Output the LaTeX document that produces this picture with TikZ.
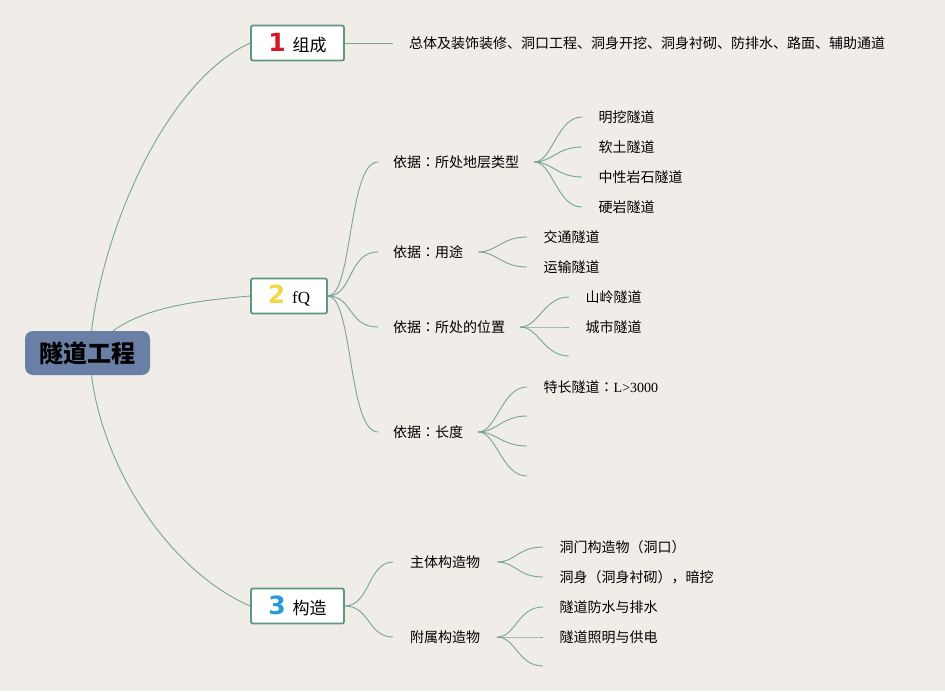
\documentclass[tikz,border=0pt]{standalone}
\usepackage{fontspec}
\setmainfont{Noto Sans CJK SC}
\newfontfamily\tcfont{Noto Sans CJK TC}
\newfontfamily\serifl{Liberation Serif}
\newfontfamily\numf{DejaVu Sans}[BoldFont={DejaVu Sans Bold}]
\definecolor{bg}{RGB}{240,236,232}
\definecolor{rootc}{RGB}{106,127,166}
\definecolor{boxc}{RGB}{94,150,132}
\definecolor{connc}{RGB}{118,166,148}
\definecolor{nred}{RGB}{214,24,44}
\definecolor{nyel}{RGB}{245,214,72}
\definecolor{nblue}{RGB}{38,152,222}
\newcommand{\bignum}[2]{{\numf\bfseries\fontsize{25}{25}\selectfont\color{#1}#2}}
\newcommand{\ccolon}{{\tcfont ：}}
\begin{document}
\begin{tikzpicture}[x=1pt,y=-1pt,
  rootbox/.style={fill=rootc, rounded corners=8pt, minimum width=125pt, minimum height=44pt, inner sep=0pt, font=\fontsize{24}{26}\selectfont\bfseries},
  catbox/.style={draw=boxc, line width=1.8pt, fill=white, rounded corners=2pt, minimum height=35pt, inner sep=0pt, font=\fontsize{17}{20}\selectfont},
  subb/.style={anchor=west, inner xsep=15pt, inner ysep=2pt, font=\fontsize{14}{16}\selectfont},
  leaf/.style={anchor=west, inner xsep=16.5pt, inner ysep=2pt, font=\fontsize{14}{16}\selectfont},
  conn/.style={draw=connc, line width=0.9pt}]
\fill[bg] (0,0) rectangle (945,691);
\useasboundingbox (0,0) rectangle (945,691);

% root and categories
\node[rootbox] (root) at (87.5,353) {隧道工程};
\node[catbox, minimum width=93pt] (c1) at (297.5,43) {\bignum{nred}{1}\hspace{7pt}组成};
\node[catbox, minimum width=76pt] (c2) at (289,296) {\bignum{nyel}{2}\hspace{7pt}{\serifl fQ}};
\node[catbox, minimum width=93pt] (c3) at (297.5,606) {\bignum{nblue}{3}\hspace{7pt}构造};

\draw[conn] ([xshift=4pt]root.north) .. controls +(14,-111) and +(-81,37) .. (c1.west);
\draw[conn] ([xshift=-37pt]root.north east) .. controls +(30,-22) and +(-60,5) .. (c2.west);
\draw[conn] ([xshift=4pt]root.south) .. controls +(12,95) and +(-80,-35) .. (c3.west);

% category 1
\node[leaf, inner xsep=16pt] (t1) at (393,43) {总体及装饰装修、洞口工程、洞身开挖、洞身衬砌、防排水、路面、辅助通道};
\draw[conn] (c1.east) -- (t1.west);

% category 2
\node[subb] (s1) at (378,162) {依据\ccolon 所处地层类型};
\node[subb] (s2) at (378,252) {依据\ccolon 用途};
\node[subb] (s3) at (378,327) {依据\ccolon 所处的位置};
\node[subb] (s4) at (378,432) {依据\ccolon 长度};
\foreach \s in {s1,s2,s3,s4}
  \draw[conn] (c2.east) .. controls +(25,0) and +(-30,0) .. (\s.west);

\node[leaf] (l11) at (582,117) {明挖隧道};
\node[leaf] (l12) at (582,147) {软土隧道};
\node[leaf] (l13) at (582,177) {中性岩石隧道};
\node[leaf] (l14) at (582,207) {硬岩隧道};
\foreach \l in {l11,l12,l13,l14}
  \draw[conn] (s1.east) .. controls +(18,0) and +(-25,0) .. (\l.west);

\node[leaf] (l21) at (527,237) {交通隧道};
\node[leaf] (l22) at (527,267) {运输隧道};
\foreach \l in {l21,l22}
  \draw[conn] (s2.east) .. controls +(18,0) and +(-25,0) .. (\l.west);

\node[leaf] (l31) at (569,297) {山岭隧道};
\node[leaf] (l32) at (569,327) {城市隧道};
\coordinate (e33) at (569,356);
\foreach \l in {l31.west,l32.west,e33}
  \draw[conn] (s3.east) .. controls +(18,0) and +(-25,0) .. (\l);

\node[leaf] (l41) at (527,387) {特长隧道\ccolon{\serifl L>3000}};
\coordinate (e42) at (527,416);
\coordinate (e43) at (527,446);
\coordinate (e44) at (527,476);
\foreach \l in {l41.west,e42,e43,e44}
  \draw[conn] (s4.east) .. controls +(18,0) and +(-25,0) .. (\l);

% category 3
\node[subb, inner xsep=17pt] (m1) at (393,562) {主体构造物};
\node[subb, inner xsep=17pt] (m2) at (393,637) {附属构造物};
\foreach \s in {m1,m2}
  \draw[conn] (c3.east) .. controls +(25,0) and +(-25,0) .. (\s.west);

\node[leaf] (l51) at (543,547) {洞门构造物（洞口）};
\node[leaf] (l52) at (543,577) {洞身（洞身衬砌），暗挖};
\foreach \l in {l51,l52}
  \draw[conn] (m1.east) .. controls +(18,0) and +(-25,0) .. (\l.west);

\node[leaf] (l61) at (543,607) {隧道防水与排水};
\node[leaf] (l62) at (543,637) {隧道照明与供电};
\coordinate (e63) at (543,666);
\foreach \l in {l61.west,l62.west,e63}
  \draw[conn] (m2.east) .. controls +(18,0) and +(-25,0) .. (\l);
\end{tikzpicture}
\end{document}
